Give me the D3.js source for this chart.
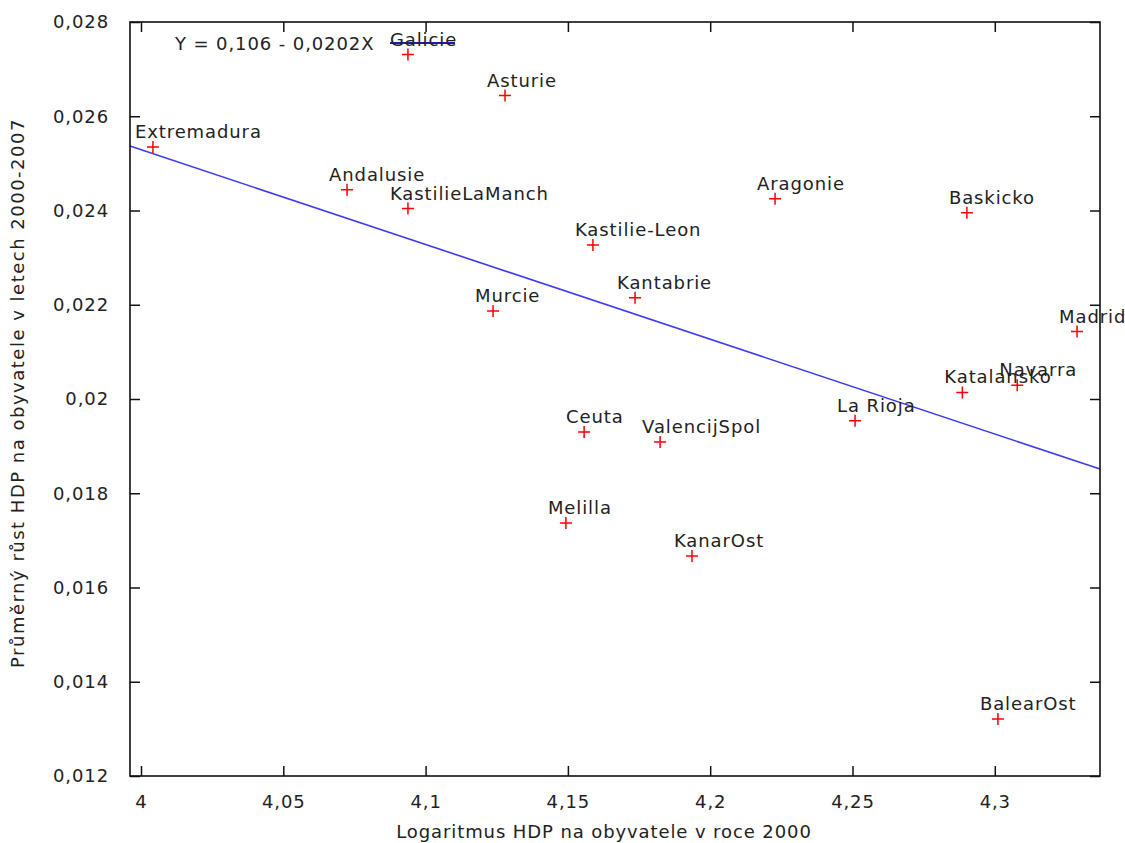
<!DOCTYPE html>
<html><head><meta charset="utf-8">
<script src="https://cdn.jsdelivr.net/npm/d3@7"></script>
<style>
html,body{margin:0;padding:0;background:#fff;}
svg{display:block;font-family:"DejaVu Sans",Verdana,sans-serif;}
</style></head>
<body>
<svg id="c" width="1125" height="843"></svg>
<script>
const regions = ["Galicie","Asturie","Extremadura","Andalusie","KastilieLaManch","Murcie","Aragonie","Kastilie-Leon","Kantabrie","Baskicko","Madrid","Navarra","Katalansko","La Rioja","Ceuta","ValencijSpol","Melilla","KanarOst","BalearOst"];
const logGdp2000 = [4.0938,4.1279,4.0042,4.0724,4.0938,4.1237,4.2228,4.1588,4.1736,4.2902,4.3289,4.3079,4.2886,4.2509,4.1557,4.1824,4.1493,4.1936,4.3011];
const growth = [0.02731,0.02644,0.02535,0.02444,0.02404,0.02187,0.02425,0.02327,0.02215,0.02395,0.02143,0.02029,0.02014,0.01954,0.01930,0.01909,0.01737,0.01667,0.01321];
const regression = [0.10573, -0.02011]; // intercept, slope
const legendText = "Y = 0,106 - 0,0202X";
const xTicks = [4,4.05,4.1,4.15,4.2,4.25,4.3];
const yTicks = [0.012,0.014,0.016,0.018,0.02,0.022,0.024,0.026,0.028];
const xTitle = "Logaritmus HDP na obyvatele v roce 2000";
const yTitle = "Průměrný růst HDP na obyvatele v letech 2000-2007";

const svg = d3.select("#c");
const L=130,R=1100,T=22,B=776;
const x = d3.scaleLinear().domain([3.996135,4.33697]).range([L,R]);
const y = d3.scaleLinear().domain([0.012,0.028]).range([B,T]);
const loc = d3.formatLocale({decimal:",",thousands:" ",grouping:[3],currency:["",""]});
const fmt = loc.format("~r");
const tickColor="#222", fs=18, ls=0.9;

// regression line
const x0 = x.domain()[0], x1 = x.domain()[1];
svg.append("line")
  .attr("x1",x(x0)).attr("y1",y(regression[0]+regression[1]*x0))
  .attr("x2",x(x1)).attr("y2",y(regression[0]+regression[1]*x1))
  .attr("stroke","#3a3aff").attr("stroke-width",1.6);

// axes
const gB = svg.append("g").attr("transform",`translate(0,${B})`)
  .call(d3.axisBottom(x).tickValues(xTicks).tickFormat(fmt).tickSizeInner(-10).tickSizeOuter(0).tickPadding(20));
const gL = svg.append("g").attr("transform",`translate(${L},0)`)
  .call(d3.axisLeft(y).tickValues(yTicks).tickFormat(fmt).tickSizeInner(-10).tickSizeOuter(0).tickPadding(21));
const gT = svg.append("g").attr("transform",`translate(0,${T})`)
  .call(d3.axisTop(x).tickValues(xTicks).tickFormat("").tickSizeInner(-10).tickSizeOuter(0));
const gR = svg.append("g").attr("transform",`translate(${R},0)`)
  .call(d3.axisRight(y).tickValues(yTicks).tickFormat("").tickSizeInner(-10).tickSizeOuter(0));
[gB,gL,gT,gR].forEach(g=>{
  g.select(".domain").remove();
  g.selectAll(".tick line").attr("stroke","#111").attr("stroke-width",1.5);
  g.selectAll("text").attr("font-size",fs).attr("fill",tickColor).attr("font-family","DejaVu Sans").attr("letter-spacing",ls);
});
gB.selectAll("text").attr("dy","0.66em");
svg.append("rect").attr("x",L).attr("y",T).attr("width",R-L).attr("height",B-T)
  .attr("fill","none").attr("stroke","#111").attr("stroke-width",1.6);

// legend
svg.append("text").attr("x",175).attr("y",50).attr("font-size",fs).attr("letter-spacing",ls).attr("fill",tickColor).text(legendText);
svg.append("line").attr("x1",390).attr("x2",455).attr("y1",43).attr("y2",43)
  .attr("stroke","#1c1cb0").attr("stroke-width",2);

// points
const pts = svg.append("g");
regions.forEach((name,i)=>{
  const px = x(logGdp2000[i]), py = y(growth[i]);
  pts.append("path").attr("d",`M${px-6},${py}H${px+6}M${px},${py-6}V${py+6}`)
    .attr("stroke","#ff0000").attr("stroke-width",1.5).attr("fill","none");
  pts.append("text").attr("x",px-18).attr("y",py-9).attr("font-size",fs).attr("letter-spacing",ls).attr("fill",tickColor).text(name);
});

// titles
svg.append("text").attr("x",604).attr("y",838).attr("text-anchor","middle").attr("font-size",fs).attr("letter-spacing",ls).attr("fill",tickColor).text(xTitle);
svg.append("text").attr("transform","translate(24,393) rotate(-90)").attr("text-anchor","middle").attr("font-size",fs).attr("letter-spacing",1.5).attr("fill",tickColor).text(yTitle);
</script>
</body></html>
